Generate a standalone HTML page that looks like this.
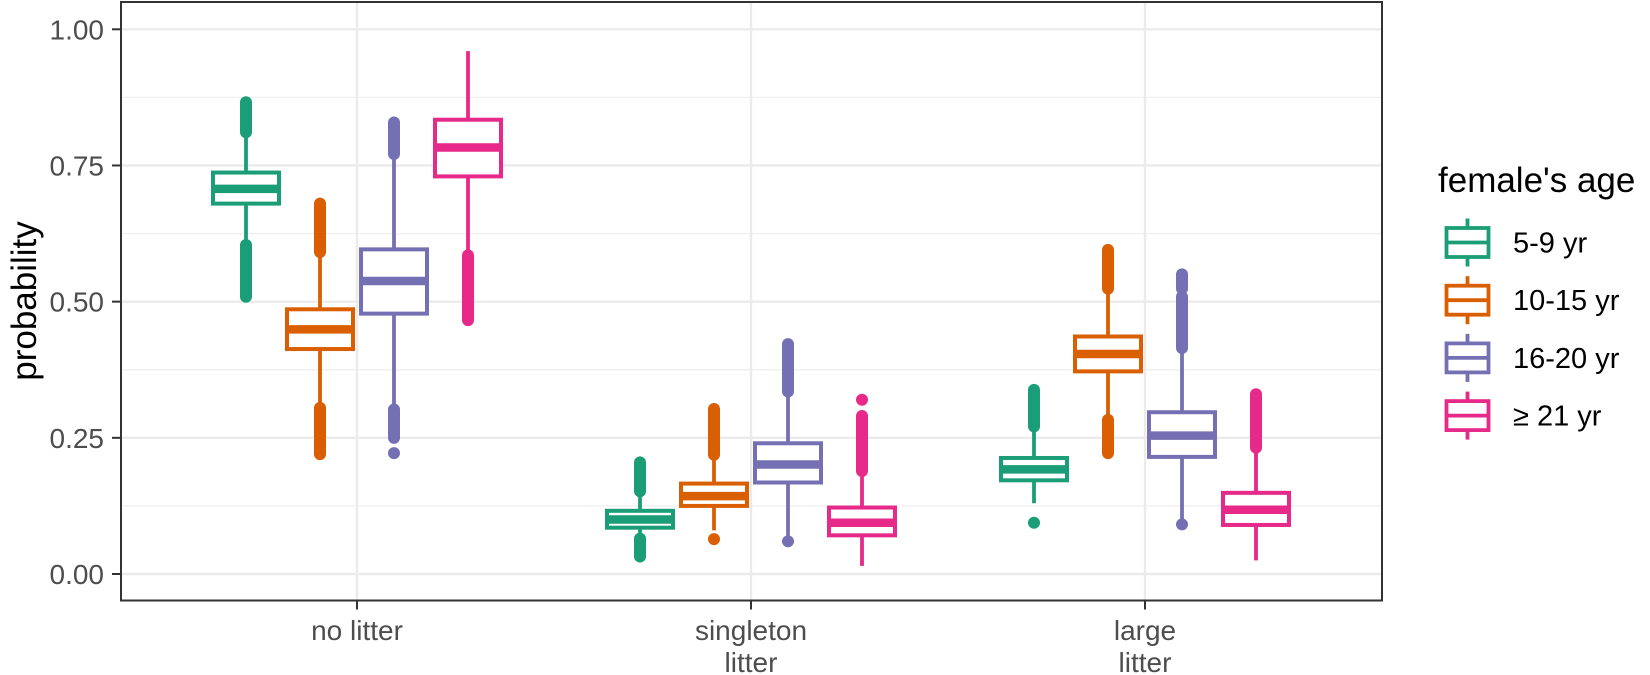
<!DOCTYPE html>
<html><head><meta charset="utf-8"><style>
html,body{margin:0;padding:0;background:#fff;}
svg{display:block;font-family:"Liberation Sans",Arial,sans-serif;}
</style></head><body>
<svg id="chart" width="1650" height="675" viewBox="0 0 1650 675"></svg>
<script>
const categories = ["no litter", "singleton\nlitter", "large\nlitter"];
const groups = ["5-9 yr", "10-15 yr", "16-20 yr", "\u2265 21 yr"];
const colors = ["#1B9E77", "#D95F02", "#7570B3", "#E7298A"];
const yTicks = [0, 0.25, 0.5, 0.75, 1.0];
const yTickLabels = ["0.00", "0.25", "0.50", "0.75", "1.00"];
// [category][group] = [whiskerLow, q1, median, q3, whiskerHigh]
const boxStats = [
  [[0.604,0.680,0.707,0.737,0.811],[0.305,0.413,0.449,0.486,0.591],[0.302,0.478,0.538,0.596,0.771],[0.585,0.730,0.783,0.834,0.960]],
  [[0.065,0.085,0.100,0.116,0.152],[0.080,0.125,0.143,0.166,0.219],[0.070,0.168,0.201,0.240,0.335],[0.015,0.071,0.094,0.122,0.189]],
  [[0.130,0.172,0.192,0.213,0.271],[0.283,0.372,0.404,0.436,0.524],[0.091,0.215,0.254,0.297,0.415],[0.025,0.090,0.118,0.149,0.232]]
];
// outlier clusters as [low, high] value ranges
const outliers = [
  [[[0.509,0.604],[0.811,0.866]],[[0.220,0.305],[0.591,0.680]],[[0.222,0.222],[0.250,0.302],[0.771,0.829]],[[0.466,0.585]]],
  [[[0.032,0.065],[0.152,0.205]],[[0.064,0.064],[0.219,0.303]],[[0.060,0.060],[0.335,0.422]],[[0.189,0.290],[0.320,0.320]]],
  [[[0.094,0.094],[0.271,0.338]],[[0.222,0.283],[0.524,0.595]],[[0.091,0.091],[0.415,0.509],[0.524,0.550]],[[0.232,0.330]]]
];

const NS = "http://www.w3.org/2000/svg";
const svg = document.getElementById("chart");
const P = {l:121, r:1382, t:2, b:600.5};
const y = v => 574 - v*544.7;
const x = i => 357 + 394*i;
const dodge = g => (g - 1.5)*74;
function el(tag, attrs, parent){const e=document.createElementNS(NS,tag);for(const k in attrs)e.setAttribute(k,attrs[k]);(parent||svg).appendChild(e);return e;}

// grid
const grid = el("g",{});


for(let i=0;i<yTicks.length;i++){
  el("line",{x1:P.l,x2:P.r,y1:y(yTicks[i]),y2:y(yTicks[i]),stroke:"#ebebeb","stroke-width":2.4},grid);
  if(i<yTicks.length-1){const m=(yTicks[i]+yTicks[i+1])/2;el("line",{x1:P.l,x2:P.r,y1:y(m),y2:y(m),stroke:"#f0f0f0","stroke-width":1.4},grid);}
}
categories.forEach((c,i)=>el("line",{x1:x(i),x2:x(i),y1:P.t,y2:P.b,stroke:"#ebebeb","stroke-width":2.4},grid));

// boxes
categories.forEach((c,ci)=>{
  groups.forEach((g,gi)=>{
    const s = boxStats[ci][gi], col = colors[gi], cx = x(ci)+dodge(gi), w = 66;
    const bg = el("g",{});
    
    
    el("line",{x1:cx,x2:cx,y1:y(s[0]),y2:y(s[4]),stroke:col,"stroke-width":3.8},bg);
    outliers[ci][gi].forEach(r=>{
      el("line",{x1:cx,x2:cx,y1:y(r[0]),y2:y(r[1]),stroke:col,"stroke-width":12,"stroke-linecap":"round"},bg);
    });
    el("rect",{x:cx-w/2,y:y(s[3]),width:w,height:y(s[1])-y(s[3]),fill:"#fff",stroke:col,"stroke-width":4},bg);
    el("line",{x1:cx-w/2,x2:cx+w/2,y1:y(s[2]),y2:y(s[2]),stroke:col,"stroke-width":8.5},bg);
  });
});

// panel border
const border = el("rect",{x:P.l,y:P.t,width:P.r-P.l,height:P.b-P.t,fill:"none",stroke:"#333","stroke-width":2});



// y axis
yTicks.forEach((t,i)=>{
  el("line",{x1:P.l-9,x2:P.l,y1:y(t),y2:y(t),stroke:"#333","stroke-width":2});
  const tx = el("text",{x:104,y:y(t)+10,"text-anchor":"end","font-size":28,fill:"#4d4d4d"});
  tx.textContent = yTickLabels[i];
  
  
});
const yt = el("text",{x:0,y:0,transform:"translate(36,301) rotate(-90)","text-anchor":"middle","font-size":35,fill:"#000"});
yt.textContent = "probability";



// x axis
categories.forEach((c,i)=>{
  el("line",{x1:x(i),x2:x(i),y1:P.b,y2:P.b+9,stroke:"#333","stroke-width":2});
  c.split("\n").forEach((ln,li)=>{
    const t = el("text",{x:x(i),y:640+li*32,"text-anchor":"middle","font-size":28,fill:"#4d4d4d"});
    t.textContent = ln;
    
    
  });
});

// legend
const lg = el("g",{});


const lt = el("text",{x:1438,y:192,"font-size":35,fill:"#000"},lg);
lt.textContent = "female's age";


groups.forEach((g,gi)=>{
  const cy = 242.5 + 57.7*gi, cx = 1467.5, col = colors[gi];
  const e = el("g",{},lg);
  
  
  el("line",{x1:cx,x2:cx,y1:cy-24,y2:cy+24,stroke:col,"stroke-width":3.8},e);
  el("rect",{x:cx-21,y:cy-14.5,width:42,height:29,fill:"#fff",stroke:col,"stroke-width":3.8},e);
  el("line",{x1:cx-21,x2:cx+21,y1:cy,y2:cy,stroke:col,"stroke-width":3.8},e);
  const t = el("text",{x:1513,y:cy+10,"font-size":29,fill:"#000"},e);
  t.textContent = g;
});
</script>
</body></html>
